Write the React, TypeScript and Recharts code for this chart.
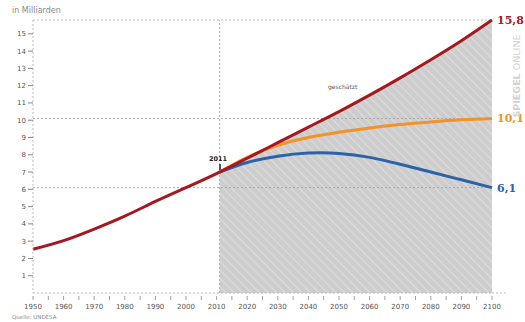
import React from 'react';
import { ComposedChart, Line, Area, XAxis, YAxis, ReferenceLine } from 'recharts';

const years = [1950, 1960, 1970, 1980, 1990, 2000, 2011, 2020, 2030, 2040, 2050, 2060, 2070, 2080, 2090, 2100];
const highSeries = [2.53, 3.03, 3.7, 4.45, 5.3, 6.1, 7.0, 7.8, 8.7, 9.6, 10.5, 11.45, 12.45, 13.5, 14.6, 15.8];
const mediumSeries = [null, null, null, null, null, null, 7.0, 7.85, 8.55, 9.0, 9.3, 9.55, 9.75, 9.9, 10.02, 10.1];
const lowSeries = [null, null, null, null, null, null, 7.0, 7.55, 7.92, 8.1, 8.08, 7.85, 7.45, 7.0, 6.55, 6.1];
const forecastStart = 2011;
const xTicks = [1950, 1955, 1960, 1965, 1970, 1975, 1980, 1985, 1990, 1995, 2000, 2005, 2010, 2015, 2020, 2025, 2030, 2035, 2040, 2045, 2050, 2055, 2060, 2065, 2070, 2075, 2080, 2085, 2090, 2095, 2100];
const yTicks = [1, 2, 3, 4, 5, 6, 7, 8, 9, 10, 11, 12, 13, 14, 15];
const endHigh = highSeries[highSeries.length - 1];
const endMedium = mediumSeries[mediumSeries.length - 1] as number;
const endLow = lowSeries[lowSeries.length - 1] as number;

const data = years.map((y, i) => ({
  year: y,
  high: highSeries[i],
  medium: mediumSeries[i],
  low: lowSeries[i],
  shade: y >= forecastStart ? highSeries[i] : null,
}));

const RED = '#a3191f';
const ORANGE = '#f39226';
const BLUE = '#2c62a8';
const FONT = '"DejaVu Sans", Verdana, sans-serif';

const XTick = (props: any) => {
  const { x, y, payload } = props;
  const major = payload.value % 10 === 0;
  return (
    <g>
      <line x1={x} x2={x} y1={y - 5} y2={y - 1} stroke="#888" strokeWidth={0.8} />
      {major && (
        <text x={x} y={y + 8} textAnchor="middle" fontSize={7} fill="#555" fontFamily={FONT}>
          {payload.value}
        </text>
      )}
    </g>
  );
};

const endLabel = (color: string, text: string, n: number) => (props: any) => {
  const { x, y, index } = props;
  if (index !== n - 1) return null;
  return (
    <text x={x + 5} y={y + 4} fontSize={11} fontWeight="bold" fill={color} fontFamily='"DejaVu Serif", serif'>
      {text}
    </text>
  );
};

const fmt = (v: number) => v.toFixed(1).replace('.', ',');

export default function App() {
  return (
    <div style={{ position: 'absolute', left: 0, top: 0, width: 525, height: 322, background: '#fff' }}>
      <ComposedChart
        width={525}
        height={322}
        data={data}
        margin={{ top: 20, right: 33, bottom: 9, left: 5 }}
      >
        <defs>
          <pattern id="hatch" width="6" height="6" patternUnits="userSpaceOnUse" patternTransform="rotate(-45)">
            <rect width="6" height="6" fill="#cdcdcd" />
            <line x1="0" y1="0" x2="0" y2="6" stroke="#dcdcdc" strokeWidth="2.5" />
          </pattern>
        </defs>
        <XAxis
          dataKey="year"
          type="number"
          domain={[1950, 2100]}
          ticks={xTicks}
          interval={0}
          tick={<XTick />}
          tickLine={false}
          axisLine={{ stroke: '#bbb', strokeDasharray: '2 2' }}
          height={20}
        />
        <YAxis
          type="number"
          domain={[0, endHigh]}
          ticks={yTicks}
          interval={0}
          width={28}
          tickSize={5}
          tickLine={{ stroke: '#888' }}
          tick={{ fontSize: 7, fill: '#555', fontFamily: FONT }}
          axisLine={{ stroke: '#bbb', strokeDasharray: '2 2' }}
        />
        <Area
          type="natural"
          dataKey="shade"
          stroke="none"
          fill="url(#hatch)"
          fillOpacity={1}
          isAnimationActive={false}
          connectNulls={false}
          dot={false}
          activeDot={false}
        />
        <ReferenceLine y={endHigh} stroke="#bbb" strokeDasharray="2 2" />
        <ReferenceLine y={endMedium} stroke="#aaa" strokeDasharray="2 2" />
        <ReferenceLine y={endLow} stroke="#aaa" strokeDasharray="2 2" />
        <ReferenceLine x={forecastStart} stroke="#aaa" strokeDasharray="2 2" />
        <ReferenceLine
          segment={[{ x: 2100, y: 0 }, { x: 2105, y: 0 }]}
          ifOverflow="visible"
          stroke="#bbb"
          strokeDasharray="2 2"
        />
        <Line
          type="natural"
          dataKey="low"
          stroke={BLUE}
          strokeWidth={3}
          dot={false}
          activeDot={false}
          isAnimationActive={false}
          label={endLabel(BLUE, fmt(endLow), years.length)}
        />
        <Line
          type="natural"
          dataKey="medium"
          stroke={ORANGE}
          strokeWidth={3}
          dot={false}
          activeDot={false}
          isAnimationActive={false}
          label={endLabel(ORANGE, fmt(endMedium), years.length)}
        />
        <Line
          type="natural"
          dataKey="high"
          stroke={RED}
          strokeWidth={3}
          dot={false}
          activeDot={false}
          isAnimationActive={false}
          label={endLabel(RED, fmt(endHigh), years.length)}
        />
      </ComposedChart>
      <div style={{ position: 'absolute', left: 12, top: 6, fontSize: 8, color: '#888', fontFamily: FONT }}>in Milliarden</div>
      <div style={{ position: 'absolute', left: 12, top: 314, fontSize: 5.5, color: '#888', fontFamily: FONT }}>Quelle: UNDESA</div>
      <div style={{ position: 'absolute', left: 328, top: 83, fontSize: 6, color: '#555', fontFamily: FONT }}>geschätzt</div>
      <div style={{ position: 'absolute', left: 209, top: 155, fontSize: 6.5, fontWeight: 'bold', color: '#222', fontFamily: FONT }}>2011</div>
      <div style={{ position: 'absolute', left: 219, top: 164, width: 1.5, height: 6, background: '#555' }} />
      <div
        style={{
          position: 'absolute',
          left: 516,
          top: 76,
          transform: 'translate(-50%, -50%) rotate(-90deg)',
          fontSize: 9.5,
          color: '#d2d2d2',
          fontFamily: FONT,
          whiteSpace: 'nowrap',
        }}
      >
        <b>SPIEGEL</b> ONLINE
      </div>
    </div>
  );
}
